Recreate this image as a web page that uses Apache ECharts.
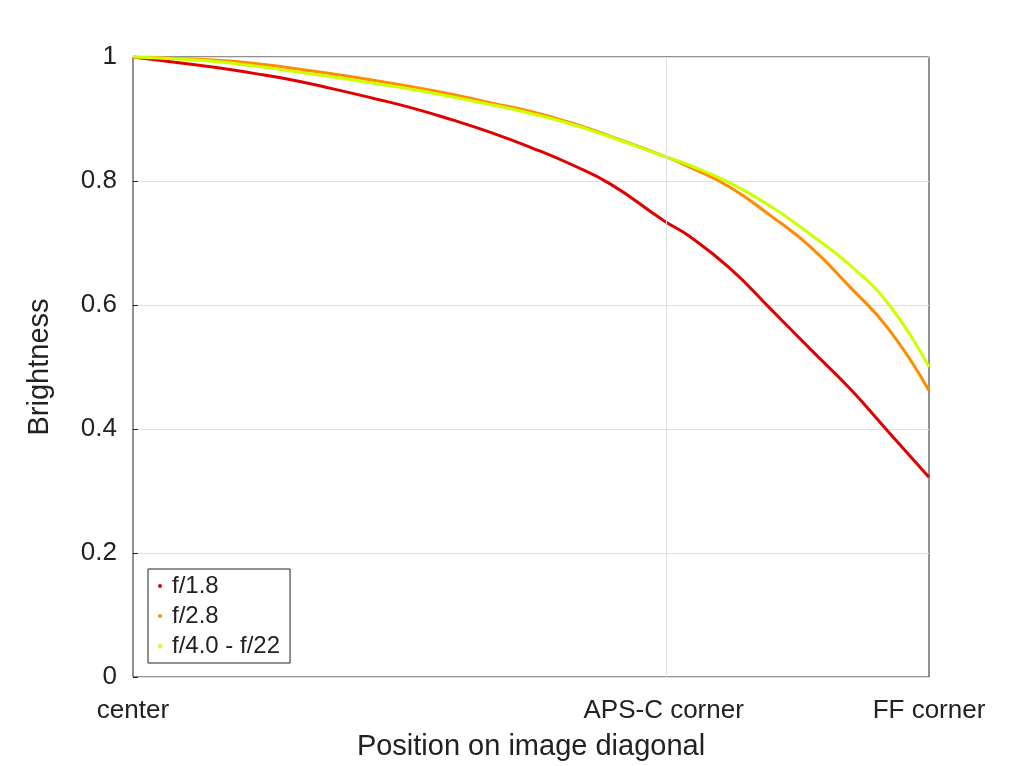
<!DOCTYPE html>
<html><head><meta charset="utf-8">
<script src="https://cdn.jsdelivr.net/npm/echarts@6/dist/echarts.min.js"></script>
<style>html,body{margin:0;background:#fff}#c{width:1026px;height:766px}</style>
</head><body><div id="c"></div>
<script>
const xs = [0,0.05,0.1,0.15,0.2,0.25,0.3,0.35,0.4,0.45,0.5,0.55,0.6,0.667,0.7,0.75,0.8,0.85,0.9,0.95,1.0];
const f18 = [1.0,0.992,0.984,0.974,0.963,0.949,0.934,0.918,0.899,0.878,0.854,0.827,0.795,0.736,0.71,0.659,0.595,0.530,0.466,0.394,0.322];
const f28 = [1.0,0.998,0.995,0.99,0.982,0.973,0.963,0.952,0.94,0.926,0.912,0.894,0.872,0.84,0.822,0.79,0.745,0.695,0.63,0.56,0.462];
const f4  = [1.0,0.997,0.993,0.986,0.977,0.968,0.958,0.948,0.936,0.923,0.909,0.892,0.871,0.84,0.825,0.797,0.76,0.715,0.665,0.60,0.50];
const names = ['f/1.8','f/2.8','f/4.0 - f/22'];
const colors = ['#e00000','#ff8c00','#ccff00'];
const pair = a => xs.map((x,i)=>[x,a[i]]);
const ch = echarts.init(document.getElementById('c'));
const font = 'Liberation Sans';
ch.setOption({
  animation:false,
  textStyle:{fontFamily:font},
  grid:{left:133,right:97,top:57,bottom:85,show:true,borderColor:'#222',borderWidth:1},
  legend:{left:148,top:569,orient:'vertical',itemWidth:14,itemHeight:4,itemGap:6,
    backgroundColor:'#fff',borderColor:'#222',borderWidth:1,padding:[5,10,5,10],
    textStyle:{fontSize:24,color:'#222',fontFamily:font},data:names.map(n=>({name:n,icon:'circle'}))},
  xAxis:{type:'value',min:0,max:1,interval:1/3,
    name:'Position on image diagonal',nameLocation:'middle',nameGap:55,nameTextStyle:{fontSize:29,color:'#222'},
    axisLine:{show:false},axisTick:{show:false},splitLine:{show:false},
    axisLabel:{fontSize:26,color:'#222',margin:21,formatter:v=>Math.abs(v)<1e-6?'center':Math.abs(v-2/3)<1e-3?'APS-C corner':Math.abs(v-1)<1e-6?'FF corner':''}},
  yAxis:{type:'value',min:0,max:1,interval:0.2,
    name:'Brightness',nameLocation:'middle',nameGap:79,nameTextStyle:{fontSize:29,color:'#222'},
    axisLine:{show:false},axisTick:{show:true,inside:true,lineStyle:{color:'#222'}},
    splitLine:{lineStyle:{color:'#e0e0e0'}},
    axisLabel:{fontSize:26,color:'#222',margin:16,formatter:v=>String(+v.toFixed(1))}},
  series:[f18,f28,f4].map((d,i)=>({
    name:names[i],type:'line',data:pair(d),smooth:true,showSymbol:false,
    lineStyle:{width:3,color:colors[i]},itemStyle:{color:colors[i]},
    markLine:i===0?{silent:true,symbol:'none',label:{show:false},lineStyle:{color:'#e0e0e0',type:'solid',width:1},data:[{xAxis:2/3}]}:undefined,
    z:i===2?3:2
  })).reverse()
});
</script></body></html>
